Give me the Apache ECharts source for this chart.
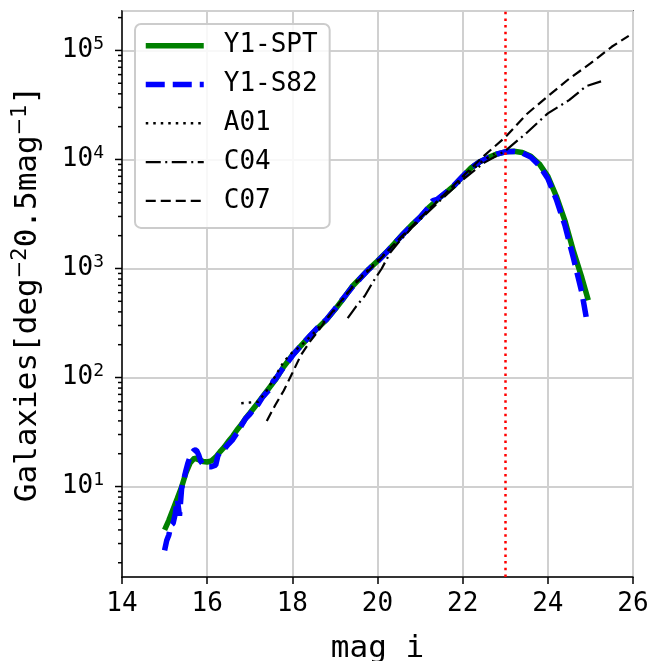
<!DOCTYPE html>
<html>
<head>
<meta charset="utf-8">
<script src="https://cdn.jsdelivr.net/npm/echarts@6/dist/echarts.min.js"></script>
<style>
html,body{margin:0;padding:0;background:#fff;}
#chart{width:663px;height:661px;}
</style>
</head>
<body>
<div id="chart"></div>
<script>
// ---- data ----
const sptMag = [15.0,15.1,15.2,15.3,15.4,15.5,15.6,15.7,15.8,15.9,16.0,16.1,16.2,16.3,16.4,16.5,16.6,16.7,16.8,16.9,17.0,
  17.2,17.4,17.6,17.8,18.0,18.2,18.4,18.6,18.8,19.0,19.2,19.4,19.6,19.8,20.0,20.2,20.4,20.6,20.8,21.0,
  21.2,21.4,21.6,21.8,22.0,22.2,22.4,22.6,22.8,23.0,23.2,23.4,23.6,23.8,24.0,24.2,24.4,24.6,24.8,24.95];
const sptVal = [4.0,4.9,6.2,7.8,9.9,13.3,16.5,18.2,17.6,17.0,16.8,17.2,18.6,20.8,23,26,29,33,37,42,47,
  59,75,95,126,160,195,237,285,338,420,530,680,820,990,1170,1400,1700,2080,2500,2950,
  3600,4250,4950,5750,7000,8400,9500,10400,11200,11750,11900,11600,10700,9100,7000,4600,2750,1450,820,510];

const s82Mag = [15.0,15.05,15.1,15.15,15.2,15.25,15.3,15.35,15.4,15.45,15.5,15.55,15.6,15.65,15.7,15.75,15.8,15.85,15.9,16.0,16.1,16.2,16.25,16.3,16.4,16.5,16.6,16.7,16.8,16.9,
  17.0,17.1,17.2,17.3,17.4,17.5,17.55,17.6,17.7,17.8,17.9,18.0,18.2,18.4,18.6,18.8,19.0,19.2,19.4,19.6,19.8,20.0,20.2,20.4,20.6,20.8,21.0,
  21.2,21.3,21.4,21.6,21.8,22.0,22.2,22.4,22.6,22.8,23.0,23.2,23.4,23.6,23.8,24.0,24.2,24.4,24.6,24.8,24.9];
const s82Val = [2.6,3.2,3.6,4.4,4.6,5.6,7.6,5.4,9.6,11.5,14,16.5,18.8,20.5,21.6,21.5,19.5,17,16,15.2,15.2,15.7,19,20.8,22,24.5,27,31,36,42,
  46,52,57,66,73,80,93,96,110,125,140,158,196,238,288,340,425,535,670,815,985,1160,1390,1700,2060,2480,2950,
  3650,4200,4300,4950,5800,7000,8400,9500,10400,11200,11750,11850,11500,10500,8800,6700,4300,2500,1250,600,360];

const a01Mag = [16.8,17.0,17.2,17.4,17.6,17.8,18.0,18.2,18.5,19.0,19.5,20.0,20.5,21.0,21.5,22.0,22.5,22.75];
const a01Val = [58,59,60,76,103,140,170,195,255,420,760,1180,1800,2900,4500,6800,9900,11300];

const c04Mag = [19.3,19.5,19.7,19.9,20.1,20.3,20.5,20.8,21.0,21.5,22.0,22.5,23.0,23.5,24.0,24.5,24.9,25.25];
const c04Val = [350,450,560,760,1000,1400,1750,2350,2800,4300,6500,9300,12000,17500,26500,35000,47000,52000];

const c07Mag = [17.4,17.6,17.8,18.0,18.2,18.4,18.6,18.8,19.0,19.5,20.0,20.5,21.0,21.5,22.0,22.5,23.0,23.5,24.0,24.5,25.0,25.5,25.9];
const c07Val = [40,56,76,110,160,210,265,340,430,740,1150,1850,2900,4500,7000,10800,16000,26000,38000,55000,76000,108000,136000];

const magCut = 23.0;
const xTicks = [14,16,18,20,22,24,26];
const yDecades = [10,100,1000,10000,100000];
const yMinorMult = [2,3,4,5,6,7,8,9];
const yMinorBase = [1,10,100,1000,10000,100000];
const yMin = 1.48, yMax = 2.3e5;

const seriesNames = ['Y1-SPT','Y1-S82','A01','C04','C07'];
const seriesColors = ['#008000','#0000ff','#000000','#000000','#000000'];
const seriesWidths = [5.5, 5.5, 2.4, 2.2, 2.2];
const seriesDash = ['solid', [19, 8], [2.5, 5], [15, 4.5, 2, 4.5], [10, 5]];

// ---- build ----
const zip = (m, v) => m.map((x, i) => [x, v[i]]);
const mono = 'DejaVu Sans Mono';
const curves = [zip(sptMag, sptVal), zip(s82Mag, s82Val), zip(a01Mag, a01Val), zip(c04Mag, c04Val), zip(c07Mag, c07Val)];

const tickData = [];
yDecades.forEach(v => tickData.push([14, v, 7]));
yMinorBase.forEach(b => yMinorMult.forEach(m => {
  const v = b * m;
  if (v > yMin && v < yMax) tickData.push([14, v, 4]);
}));

const lineSeries = seriesNames.map((name, i) => {
  const s = {
    name: name, type: 'line', data: curves[i], showSymbol: false, symbol: 'none',
    lineStyle: {color: seriesColors[i], width: seriesWidths[i], type: seriesDash[i]},
    itemStyle: {color: seriesColors[i]}, z: 2 + i
  };
  if (i === 0) {
    s.markLine = {silent: true, symbol: 'none', label: {show: false}, z: 20,
      lineStyle: {color: '#ff0000', width: 2.5, type: [2.5, 4.2]},
      data: [{xAxis: magCut}]};
  }
  return s;
});

const chart = echarts.init(document.getElementById('chart'), null, {renderer: 'canvas'});
chart.setOption({
  animation: false,
  backgroundColor: '#fff',
  grid: {left: 122, right: 30, top: 11, bottom: 84, show: true, borderColor: '#000', borderWidth: 1.5,
    backgroundColor: 'transparent', containLabel: false, outerBoundsMode: 'none'},
  legend: {
    data: seriesNames.map((n, i) => ({
      name: n,
      itemStyle: {opacity: 0},
      lineStyle: {color: seriesColors[i], width: seriesWidths[i], type: seriesDash[i]}
    })),
    orient: 'vertical',
    left: 135, top: 24,
    padding: [8.7, 12, 14, 8],
    itemWidth: 58, itemHeight: 26, itemGap: 12.8,
    itemStyle: {opacity: 0},
    backgroundColor: 'rgba(255,255,255,0.85)',
    borderColor: '#cccccc', borderWidth: 2, borderRadius: 6,
    textStyle: {fontFamily: mono, fontSize: 26, color: '#000', padding: [0, 0, 0, 15]},
    selectedMode: false
  },
  xAxis: {
    type: 'value', min: 14, max: 26, interval: 2,
    name: 'mag i', nameLocation: 'middle', nameGap: 56,
    nameTextStyle: {fontFamily: mono, fontSize: 31, color: '#000'},
    axisLine: {show: true, lineStyle: {color: '#000', width: 1.5}},
    axisTick: {show: true, length: 7, inside: false, lineStyle: {color: '#000', width: 1.5}},
    axisLabel: {fontFamily: mono, fontSize: 26, color: '#000', margin: 14},
    splitLine: {show: true, lineStyle: {color: '#d0d0d0', width: 2}}
  },
  yAxis: {
    type: 'log', logBase: 10, min: yMin, max: yMax, splitNumber: 5,
    name: '{n|Galaxies[deg}{s|\u22122}{n|0.5mag}{s|\u22121}{n|]}',
    nameLocation: 'middle', nameGap: 76, nameRotate: 90,
    nameTextStyle: {
      color: '#000',
      rich: {
        n: {fontFamily: mono, fontSize: 31, lineHeight: 36, color: '#000'},
        s: {fontFamily: 'DejaVu Sans', fontSize: 21, lineHeight: 21, verticalAlign: 'top', color: '#000'}
      }
    },
    axisLine: {show: true, lineStyle: {color: '#000', width: 1.5}},
    axisTick: {show: false},
    minorTick: {show: false},
    axisLabel: {
      margin: 18, showMinLabel: false, showMaxLabel: false,
      formatter: function (v) {
        const e = Math.log10(v);
        if (Math.abs(e - Math.round(e)) > 1e-6) return '';
        return '{b|10}{s|' + Math.round(e) + '}';
      },
      rich: {
        b: {fontFamily: mono, fontSize: 26, lineHeight: 30, color: '#000'},
        s: {fontFamily: mono, fontSize: 18, lineHeight: 18, verticalAlign: 'top', color: '#000'}
      }
    },
    splitLine: {show: true, lineStyle: {color: '#d0d0d0', width: 2}}
  },
  series: lineSeries.concat([
    {name: 'yticks', type: 'custom', data: tickData, clip: false, silent: true, z: 20,
      renderItem: function (params, api) {
        const p = api.coord([api.value(0), api.value(1)]);
        const len = api.value(2);
        return {type: 'line', shape: {x1: p[0] - len, y1: p[1], x2: p[0], y2: p[1]},
          style: {stroke: '#000', lineWidth: 1.5}};
      }}
  ])
});
</script>
</body>
</html>
